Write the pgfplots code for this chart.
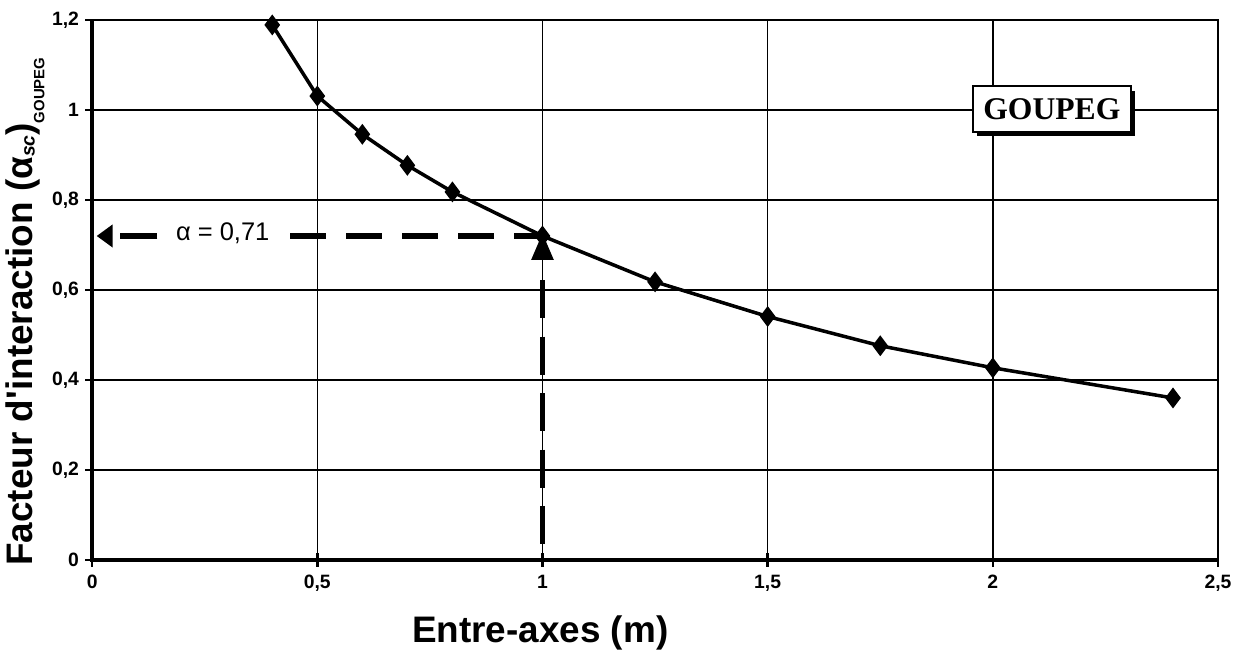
\documentclass[border=0pt]{standalone}
\usepackage{pgfplots}
\pgfplotsset{compat=1.18}
\usetikzlibrary{arrows.meta,shadows}
\usepackage{fontspec}
\setmainfont{Liberation Sans}
\newfontfamily\timesfont{Liberation Serif}

\begin{document}
\begin{tikzpicture}
\begin{axis}[
  scale only axis, width=22.52cm, height=10.8cm,
  xmin=0, xmax=2.5, ymin=0, ymax=1.2,
  xtick={0,0.5,1,1.5,2,2.5},
  ytick={0,0.2,0.4,0.6,0.8,1,1.2},
  xtick pos=left, ytick pos=left,
  grid=major,
  major grid style={black, line width=0.8pt},
  axis line style={black, line width=1.4pt},
  tick align=center, major tick length=8pt,
  tick style={black, line width=1.4pt},
  /pgf/number format/use comma,
  /pgf/number format/assume math mode=true,
  ticklabel style={font=\bfseries\fontsize{11}{13}\selectfont},
  xticklabel style={yshift=-1pt},
  xlabel={Entre-axes (m)},
  ylabel={Facteur d\textquotesingle interaction (α{\fontsize{11}{12}\selectfont\itshape\raisebox{-0.2ex}{sc}})\raisebox{-0.6ex}{\fontsize{8.5}{10}\selectfont GOUPEG}},
  label style={font=\bfseries\fontsize{21}{25}\selectfont},
  xlabel style={at={(axis description cs:0.398,0)}, anchor=center, yshift=-1.46cm},
  ylabel style={at={(axis description cs:0,0.46)}, anchor=center, yshift=1.34cm},
  clip=false,
]
% bord gauche et bas plus epais
\draw[black, line width=2.6pt] (axis description cs:0,1) -- (axis description cs:0,0) -- (axis description cs:1,0);
% courbe GOUPEG
\addplot[black, line width=2pt, mark=diamond*, mark size=4.3pt]
  coordinates {(0.4,1.189) (0.5,1.031) (0.6,0.946) (0.7,0.877) (0.8,0.818)
               (1,0.72) (1.25,0.618) (1.5,0.541) (1.75,0.476) (2,0.427) (2.4,0.36)};
% lecture de alpha pour 1 m
\addplot[black, line width=3pt, dash pattern=on 0.72cm off 0.4cm]
  coordinates {(0.44,0.72) (1,0.72)};
\addplot[black, line width=3pt, dash pattern=on 0.75cm off 2cm,
  -{Triangle[length=0.32cm,width=0.44cm]}]
  coordinates {(0.145,0.72) (0.01,0.72)};
\addplot[black, line width=3pt, dash pattern=on 0.76cm off 0.37cm]
  coordinates {(1,0.622) (1,0)};
\addplot[black, line width=3pt, -{Triangle[length=0.54cm,width=0.42cm]}]
  coordinates {(1,0.667) (1,0.727)};
\node[font=\fontsize{14.5}{17}\selectfont] at (axis cs:0.29,0.725) {α = 0,71};
\node[draw=black, line width=1.1pt, fill=white, inner xsep=6pt, inner ysep=7pt,
  drop shadow={shadow xshift=2.5pt, shadow yshift=-2.5pt, fill=black, opacity=1},
  font=\timesfont\bfseries\fontsize{18}{21}\selectfont]
  at (axis cs:2.131,1.002) {GOUPEG};
% marges de la figure
\path (axis description cs:0,0) ++(-1.84cm,-1.92cm);
\path (axis description cs:1,1) ++(0.46cm,0.4cm);
\end{axis}
\end{tikzpicture}
\end{document}
